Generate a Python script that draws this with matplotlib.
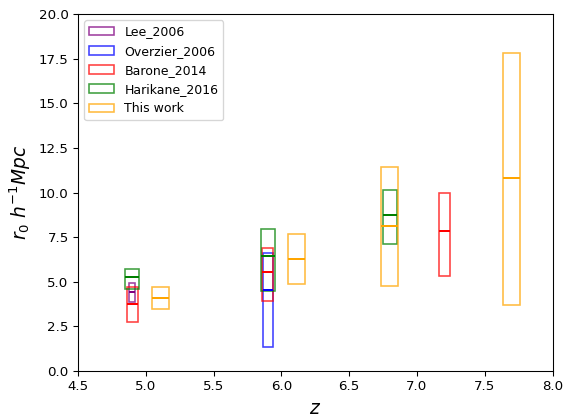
import matplotlib.pyplot as plt

# r0 measurements per survey: redshift, lower / central / upper value
lee_z = [4.9]
lee_lo = [3.88]
lee_mid = [4.45]
lee_hi = [4.91]

overzier_z = [5.9]
overzier_lo = [1.33]
overzier_mid = [4.53]
overzier_hi = [6.6]

barone_z = [4.9, 5.9, 7.2]
barone_lo = [2.72, 3.91, 5.34]
barone_mid = [3.77, 5.55, 7.86]
barone_hi = [4.69, 6.92, 9.95]

harikane_z = [4.9, 5.9, 6.8]
harikane_lo = [4.61, 4.51, 7.11]
harikane_mid = [5.25, 6.44, 8.76]
harikane_hi = [5.74, 7.94, 10.14]

work_z = [5.11, 6.11, 6.8, 7.7]
work_lo = [3.47, 4.88, 4.76, 3.68]
work_mid = [4.07, 6.27, 8.12, 10.79]
work_hi = [4.69, 7.65, 11.43, 17.83]

series = [
    ('Lee_2006', 'purple', 0.04, lee_z, lee_lo, lee_mid, lee_hi),
    ('Overzier_2006', 'blue', 0.07, overzier_z, overzier_lo, overzier_mid, overzier_hi),
    ('Barone_2014', 'red', 0.08, barone_z, barone_lo, barone_mid, barone_hi),
    ('Harikane_2016', 'green', 0.105, harikane_z, harikane_lo, harikane_mid, harikane_hi),
    ('This work', 'orange', 0.125, work_z, work_lo, work_mid, work_hi),
]

fig = plt.figure(figsize=(565 / 96, 418 / 96), dpi=96)
ax = fig.add_axes([0.138, 0.1124, 0.840, 0.854])

for label, color, w, z, lo, mid, hi in series:
    heights = [h - l for h, l in zip(hi, lo)]
    ax.bar(z, heights, width=w, bottom=lo, fill=False, edgecolor=color,
           alpha=0.75, linewidth=1.2, label=label)
    ax.hlines(mid, [zz - w / 2 for zz in z], [zz + w / 2 for zz in z],
              colors=color, linewidth=1.5)

ax.set_xlim(4.5, 8.0)
ax.set_ylim(0, 20)
ax.set_xlabel('$z$', fontsize=14)
ax.set_ylabel('$r_0\\ h^{-1}Mpc$', fontsize=14)
ax.legend(loc='upper left', fontsize=9.4)

fig.savefig('out.png', dpi=96)
